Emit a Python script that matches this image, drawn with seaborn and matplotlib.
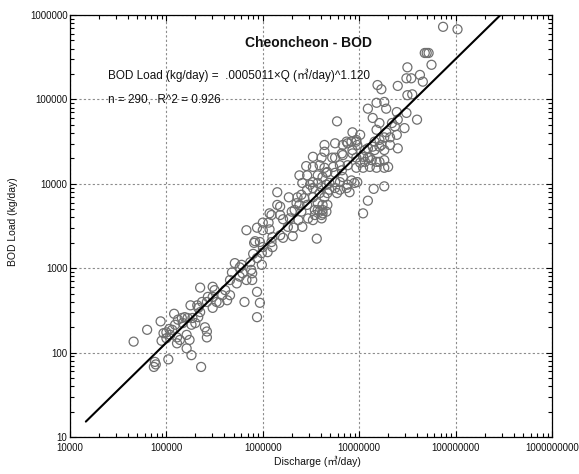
import numpy as np
import pandas as pd
import matplotlib
matplotlib.use("Agg")
import matplotlib.pyplot as plt
import seaborn as sns
from matplotlib.ticker import FixedLocator, FixedFormatter, LogLocator, NullFormatter

log_discharge = [
    4.66, 4.80, 4.87, 4.88, 4.89, 4.94, 4.95, 4.97, 5.00, 5.03, 5.06, 5.02, 5.00, 5.04, 5.08, 5.09, 5.12,
    5.16, 5.19, 5.22, 5.11, 5.14, 5.11, 5.17, 5.21, 5.24, 5.21, 5.26, 5.26, 5.25, 5.36, 5.42, 5.42,
    5.27, 5.33, 5.35, 5.30, 5.40, 5.32, 5.33, 5.37, 5.42, 5.43, 5.48, 5.48, 5.50, 5.35, 5.48, 5.52, 5.55,
    5.58, 5.61, 5.63, 5.66, 5.66, 5.68, 5.71, 5.73, 5.76, 5.76, 5.78, 5.79, 5.81, 5.83, 5.87, 5.88, 5.89,
    5.89, 5.90, 5.91, 5.94, 5.94, 5.94, 5.97, 5.97, 5.99, 5.99, 6.00, 6.05, 6.09, 6.10, 5.83,
    6.52, 6.61, 6.45, 6.52, 6.59, 6.64, 6.38, 6.46, 6.57, 6.62, 6.67, 6.52, 6.41, 6.49, 6.57, 6.61, 6.46,
    6.52, 6.66, 6.15, 6.27, 6.36, 6.40, 6.43, 6.52, 6.59, 6.64, 6.67, 6.15, 6.18, 6.35, 6.38, 6.46, 6.57,
    6.62, 6.67, 6.07, 6.09, 6.18, 6.30, 6.33, 6.40, 6.57, 6.59, 6.62, 6.66, 6.00, 6.06, 6.21, 6.28, 6.37,
    6.47, 6.52, 6.61, 5.94, 6.00, 6.07, 6.26, 6.32, 6.41, 6.18, 6.21, 6.31, 6.56, 5.92, 6.10,
    6.64, 6.64, 6.75, 6.88, 6.97, 7.23, 7.32, 7.40, 7.16, 7.26, 6.82, 6.93, 7.06, 6.75, 6.97, 7.09, 7.01,
    7.06, 7.13, 7.21, 6.88, 6.97, 7.04, 7.11, 7.18, 7.26, 7.30, 6.82, 6.75, 6.66, 6.83, 6.92, 6.98, 6.88,
    6.80, 6.95, 6.75, 6.69, 6.77, 6.80, 6.87, 6.90, 6.75, 6.69, 7.26, 7.15, 7.09, 7.04, 6.54, 6.62, 6.54,
    6.61,
    7.19, 7.23, 7.40, 7.18, 7.26, 7.28, 7.39, 7.09, 6.77, 7.34, 7.37, 7.21, 7.18, 7.28, 7.26, 7.32, 7.39,
    7.21, 7.16, 7.09, 7.14, 7.21, 6.93, 7.01, 6.97, 6.92, 6.98, 6.87, 6.83, 6.72, 6.83, 6.93, 7.04, 7.11,
    7.18, 7.26, 6.80, 6.73,
    7.87, 8.02, 7.68, 7.70, 7.72, 7.75, 7.50, 7.63, 7.49, 7.54, 7.66, 7.50, 7.55, 7.49, 7.60, 7.40, 7.47,
    7.14,
]
log_bod_load = [
    2.13, 2.27, 1.83, 1.89, 1.86, 2.37, 2.14, 2.23, 2.24, 2.28, 2.27, 1.92, 2.17, 2.21, 2.46, 2.33, 2.39,
    2.41, 2.42, 2.41, 2.18, 2.15, 2.11, 2.35, 2.21, 2.15, 2.05, 2.33, 1.97, 2.56, 1.83, 2.18, 2.25,
    2.41, 2.42, 2.48, 2.35, 2.30, 2.56, 2.53, 2.60, 2.60, 2.66, 2.66, 2.78, 2.74, 2.77, 2.53, 2.60, 2.59,
    2.68, 2.74, 2.62, 2.68, 2.86, 2.95, 3.06, 2.82, 3.01, 2.90, 3.04, 2.94, 2.60, 2.86, 3.07, 2.98, 2.94,
    2.86, 3.17, 3.30, 3.12, 2.72, 2.42, 2.59, 3.31, 3.04, 3.18, 3.25, 3.19, 3.31, 3.37, 3.45,
    4.32, 4.31, 4.21, 4.20, 4.22, 4.19, 4.10, 4.10, 4.10, 4.08, 4.14, 4.02, 4.01, 3.99, 4.01, 3.96, 3.93,
    3.95, 3.99, 3.90, 3.84, 3.84, 3.87, 3.83, 3.84, 3.89, 3.84, 3.89, 3.75, 3.73, 3.77, 3.75, 3.75, 3.77,
    3.75, 3.75, 3.65, 3.63, 3.63, 3.67, 3.69, 3.67, 3.69, 3.67, 3.69, 3.67, 3.54, 3.54, 3.58, 3.59, 3.57,
    3.59, 3.57, 3.63, 3.48, 3.45, 3.46, 3.49, 3.48, 3.49, 3.39, 3.36, 3.38, 3.35, 3.32, 3.25,
    4.46, 4.38, 4.48, 4.48, 4.50, 4.46, 4.46, 4.42, 4.40, 4.40, 4.36, 4.40, 4.40, 4.31, 4.31, 4.31, 4.25,
    4.26, 4.28, 4.26, 4.22, 4.19, 4.19, 4.20, 4.19, 4.19, 4.20, 4.16, 4.13, 4.13, 4.08, 4.04, 4.02, 3.99,
    4.02, 4.01, 4.02, 4.01, 3.89, 3.93, 3.95, 3.90, 3.95, 3.93, 3.97, 3.94, 3.80, 3.65, 3.69, 3.65, 3.63,
    3.59,
    5.17, 5.12, 5.16, 4.96, 4.97, 4.89, 4.85, 4.89, 4.74, 4.72, 4.68, 4.72, 4.64, 4.61, 4.55, 4.55, 4.58,
    4.52, 4.50, 4.42, 4.44, 4.44, 4.61, 4.58, 4.52, 4.50, 4.46, 4.50, 4.46, 4.31, 4.34, 4.36, 4.32, 4.31,
    4.26, 4.28, 4.22, 4.20,
    5.86, 5.83, 5.55, 5.55, 5.55, 5.41, 5.38, 5.29, 5.25, 5.25, 5.21, 5.05, 5.06, 4.84, 4.76, 4.76, 4.66,
    4.78,
]

# Fitted power law as drawn on the chart
fit_coef = 0.00033
fit_exp = 1.12
fit_discharge_range = [14600.0, 5.0e8]

x_tick_values = [1e4, 1e5, 1e6, 1e7, 1e8, 1e9]
x_tick_labels = ["10000", "100000", "1000000", "10000000", "100000000", "1000000000"]
y_tick_values = [10, 100, 1000, 10000, 100000, 1000000]
y_tick_labels = ["10", "100", "1000", "10000", "100000", "1000000"]

title_text = "Cheoncheon - BOD"
equation_text = "BOD Load (kg/day) =  .0005011\u00d7Q (\u33a5/day)^1.120"
stats_text = "n = 290,  R^2 = 0.926"
x_label = "Discharge (\u33a5/day)"
y_label = "BOD Load (kg/day)"

sns.set_theme(style="white")
plt.rcParams["font.family"] = ["Liberation Sans", "Noto Sans CJK KR", "DejaVu Sans"]

df = pd.DataFrame({
    "Discharge": 10 ** np.array(log_discharge),
    "BOD": 10 ** np.array(log_bod_load),
})
fit_q = np.array(fit_discharge_range)
fit_df = pd.DataFrame({"Discharge": fit_q, "BOD": fit_coef * fit_q ** fit_exp})

fig = plt.figure(figsize=(5.79, 4.74), dpi=100)
ax = fig.add_axes([70 / 579, 1 - 437 / 474, 482 / 579, 422 / 474])
ax.set_xscale("log")
ax.set_yscale("log")

sns.scatterplot(data=df, x="Discharge", y="BOD", ax=ax, s=42, marker="o",
                facecolors="none", edgecolors="#6f6f6f", linewidth=0.9, zorder=3)
sns.lineplot(data=fit_df, x="Discharge", y="BOD", ax=ax, color="black",
             linewidth=1.5, zorder=4)

ax.set_xlim(1e4, 1e9)
ax.set_ylim(10, 1e6)

ax.xaxis.set_major_locator(FixedLocator(x_tick_values))
ax.xaxis.set_major_formatter(FixedFormatter(x_tick_labels))
ax.yaxis.set_major_locator(FixedLocator(y_tick_values))
ax.yaxis.set_major_formatter(FixedFormatter(y_tick_labels))
ax.xaxis.set_minor_locator(LogLocator(base=10, subs=np.arange(2, 10), numticks=20))
ax.yaxis.set_minor_locator(LogLocator(base=10, subs=np.arange(2, 10), numticks=20))
ax.xaxis.set_minor_formatter(NullFormatter())
ax.yaxis.set_minor_formatter(NullFormatter())

ax.grid(True, which="major", linestyle=(0, (2, 2)), color="#8c8c8c", linewidth=0.8)
ax.grid(False, which="minor")
for sp in ax.spines.values():
    sp.set_color("black")
    sp.set_linewidth(0.9)

ax.tick_params(which="both", direction="in", top=True, right=True, bottom=True, left=True,
               labeltop=False, labelright=False, color="black", width=0.8)
ax.tick_params(which="major", length=4)
ax.tick_params(which="minor", length=2.6)
ax.tick_params(axis="x", labelsize=7, pad=4.5, labelcolor="#111111")
ax.tick_params(axis="y", labelsize=7, pad=1.8, labelcolor="#111111")

ax.set_xlabel("")
ax.set_ylabel("")

ax.text(0.494, 0.934, title_text, transform=ax.transAxes, ha="center", va="center",
        fontsize=10, fontweight="bold", color="#111111")
ax.text(0.079, 0.858, equation_text, transform=ax.transAxes, ha="left", va="center",
        fontsize=8.5, color="#111111")
ax.text(0.079, 0.799, stats_text, transform=ax.transAxes, ha="left", va="center",
        fontsize=8.5, color="#111111")

fig.text(317 / 579, 1 - 461 / 474, x_label, ha="center", va="center", fontsize=7.5, color="#111111")
fig.text(13 / 579, 1 - 222 / 474, y_label, ha="center", va="center", rotation=90,
         fontsize=7.5, color="#111111")

fig.savefig("out.png", dpi=100)
